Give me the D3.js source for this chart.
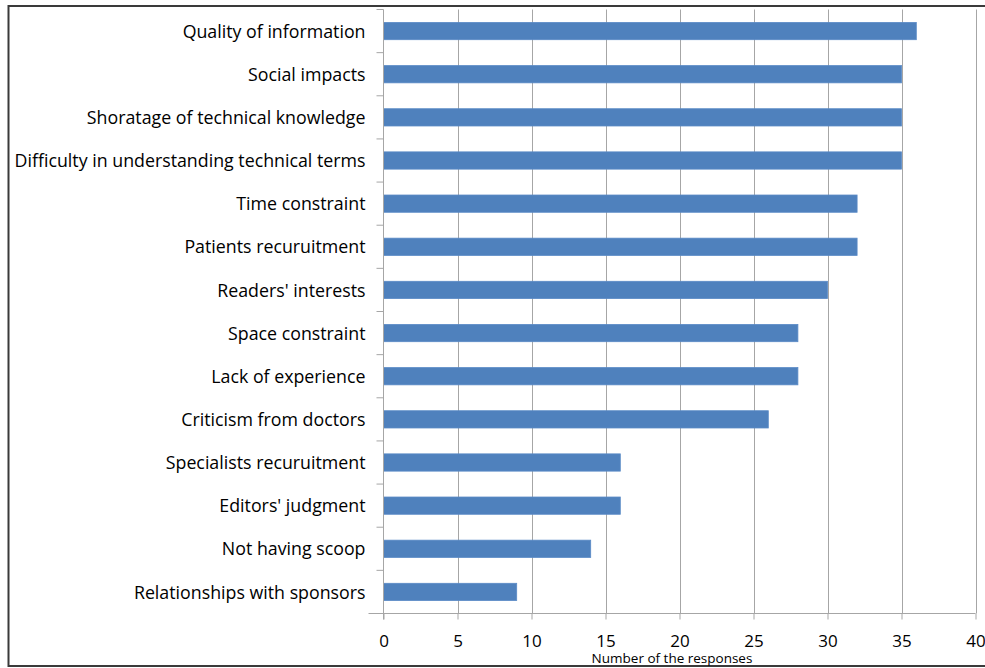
<!DOCTYPE html>
<html>
<head>
<meta charset="utf-8">
<script src="https://cdn.jsdelivr.net/npm/d3@7"></script>
<style>
  body { margin: 0; background: #fff; }
  svg { display: block; }
</style>
</head>
<body>
<svg id="chart" width="985" height="668"></svg>
<script>
'use strict';
// categories top to bottom
const categories = [
  "Quality of information",
  "Social impacts",
  "Shoratage of technical knowledge",
  "Difficulty in understanding technical terms",
  "Time constraint",
  "Patients recuruitment",
  "Readers' interests",
  "Space constraint",
  "Lack of experience",
  "Criticism from doctors",
  "Specialists recuruitment ",
  "Editors' judgment",
  "Not having scoop",
  "Relationships with sponsors"
];
const responses = [36, 35, 35, 35, 32, 32, 30, 28, 28, 26, 16, 16, 14, 9];
const xTicks = [0, 5, 10, 15, 20, 25, 30, 35, 40];
const xTitle = "Number of the responses";

(function () {
  const svg = d3.select("#chart");
  const plotLeft = 383.5, plotRight = 975.5, plotTop = 9.5, plotBottom = 613.5;

  // outer frame
  svg.append("rect")
    .attr("x", 8.5).attr("y", 6)
    .attr("width", 990).attr("height", 660)
    .attr("fill", "none")
    .attr("stroke", "#3a3a3a")
    .attr("stroke-width", 2);

  const x = d3.scaleLinear().domain([0, 40]).range([plotLeft, plotRight]);
  const y = d3.scaleBand().domain(categories).range([plotTop, plotBottom]).paddingInner(0.6).paddingOuter(0.3);

  // gridlines
  svg.append("g")
    .selectAll("line")
    .data(xTicks.slice(1))
    .join("line")
    .attr("x1", d => Math.round(x(d)) + 0.5)
    .attr("x2", d => Math.round(x(d)) + 0.5)
    .attr("y1", plotTop)
    .attr("y2", plotBottom)
    .attr("stroke", "#a6a6a6")
    .attr("stroke-width", 1);

  // bars
  svg.append("g")
    .selectAll("rect")
    .data(categories)
    .join("rect")
    .attr("x", x(0))
    .attr("y", d => y(d))
    .attr("width", (d, i) => x(responses[i]) - x(0))
    .attr("height", y.bandwidth())
    .attr("fill", "#4f81bd")
    .attr("stroke", "#5a8ac6")
    .attr("stroke-width", 0.8);

  // x axis
  const xAxis = svg.append("g")
    .attr("transform", `translate(0,${plotBottom})`)
    .call(d3.axisBottom(x).tickValues(xTicks).tickSize(6).tickFormat(d3.format("d")));
  xAxis.select(".domain").attr("stroke", "#a6a6a6").attr("d", `M${plotLeft - 15},0H${plotRight}`);
  xAxis.selectAll(".tick line").attr("stroke", "#a6a6a6");
  xAxis.selectAll(".tick text")
    .attr("y", 33.5)
    .attr("dy", null)
    .attr("fill", "#000")
    .style("font-family", "'Open Sans', sans-serif")
    .style("font-size", "17px");

  // y axis (band ticks at category boundaries)
  const yAxis = svg.append("g").attr("transform", `translate(${plotLeft},0)`);
  yAxis.append("line")
    .attr("x1", 0).attr("x2", 0)
    .attr("y1", plotTop).attr("y2", plotBottom + 6)
    .attr("stroke", "#a6a6a6");
  const step = (plotBottom - plotTop) / categories.length;
  yAxis.selectAll("line.tk")
    .data(d3.range(categories.length))
    .join("line")
    .attr("class", "tk")
    .attr("x1", -7).attr("x2", 0)
    .attr("y1", i => plotTop + i * step)
    .attr("y2", i => plotTop + i * step)
    .attr("stroke", "#a6a6a6");
  yAxis.selectAll("text")
    .data(categories)
    .join("text")
    .attr("x", -18)
    .attr("y", d => y(d) + y.bandwidth() / 2)
    .attr("dy", "0.37em")
    .attr("text-anchor", "end")
    .attr("fill", "#000")
    .style("font-family", "'Open Sans', sans-serif")
    .style("font-size", "17.8px")
    .text(d => d);

  // axis title
  svg.append("text")
    .attr("x", 672)
    .attr("y", 663)
    .attr("text-anchor", "middle")
    .style("font-family", "'Open Sans', sans-serif")
    .style("font-size", "13.5px")
    .text(xTitle);
})();
</script>
</body>
</html>
